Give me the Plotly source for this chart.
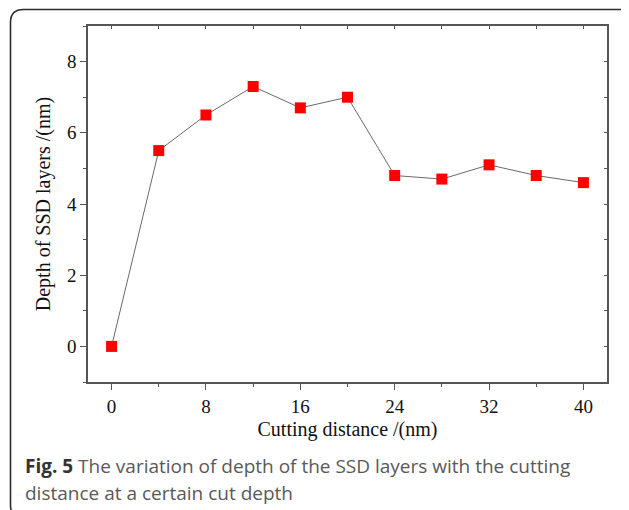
import plotly.graph_objects as go

cutting_distance = [0, 4, 8, 12, 16, 20, 24, 28, 32, 36, 40]
ssd_depth = [0.0, 5.5, 6.5, 7.3, 6.7, 7.0, 4.8, 4.7, 5.1, 4.8, 4.6]
x_ticks = [0, 8, 16, 24, 32, 40]
x_minor = [4, 12, 20, 28, 36]
x_top_ticks = [0, 4, 8, 12, 16, 20, 24, 28, 32, 36, 40]
y_ticks = [0, 2, 4, 6, 8]
y_minor = [-1, 1, 3, 5, 7, 9]
y_right_ticks = [-1, 0, 1, 2, 3, 4, 5, 6, 7, 8, 9]
x_title = "Cutting distance /(nm)"
y_title = "Depth of SSD layers /(nm)"
caption_1 = "<span style='color:#333333'><b>Fig. 5</b></span> The variation of depth of the SSD layers with the cutting"
caption_2 = "distance at a certain cut depth"

# the page body adds an 8px margin; lay out in window pixels and compensate
O = 8
W, H = 629 - O, 510 - O
L, R, T, B = 88, 607, 26, 382  # plot area in window pixels
pw, ph = R - L, B - T

def px(x):
    return (x - L) / pw

def py(y):
    return (B - y) / ph

serif = "Liberation Serif, Times New Roman, serif"
axis_col = "#555555"

fig = go.Figure()
fig.add_trace(go.Scatter(
    x=cutting_distance, y=ssd_depth, mode="lines+markers",
    line=dict(color="#6a6a6a", width=1),
    marker=dict(symbol="square", size=11, color="#ff0000", line=dict(width=0)),
    showlegend=False, cliponaxis=False))
fig.add_trace(go.Scatter(x=[], y=[], xaxis="x2", yaxis="y2", showlegend=False))

xr = [-2, 42]
yr = [-1, 9]
fig.update_layout(
    width=W, height=H,
    margin=dict(l=L - O, r=629 - R, t=T - O, b=510 - B),
    paper_bgcolor="white", plot_bgcolor="white",
    xaxis=dict(range=xr, tickvals=x_ticks, ticks="outside", ticklen=6, tickwidth=1.2,
               tickcolor=axis_col, showline=True, linecolor=axis_col, linewidth=1.6,
               showgrid=False, zeroline=False,
               minor=dict(tickvals=x_minor, ticks="outside", ticklen=3,
                          tickcolor=axis_col, tickwidth=1.2),
               tickfont=dict(family=serif, size=19, color="#111111"),
               title=dict(text=x_title, font=dict(family=serif, size=20, color="#111111"), standoff=6)),
    yaxis=dict(range=yr, tickvals=y_ticks, ticks="outside", ticklen=6, tickwidth=1.2,
               tickcolor=axis_col, showline=True, linecolor=axis_col, linewidth=1.6,
               showgrid=False, zeroline=False,
               minor=dict(tickvals=y_minor, ticks="outside", ticklen=3,
                          tickcolor=axis_col, tickwidth=1.2),
               tickfont=dict(family=serif, size=19, color="#111111"),
               title=dict(text=y_title, font=dict(family=serif, size=20, color="#111111"), standoff=11)),
    xaxis2=dict(range=xr, overlaying="x", side="top", tickvals=x_top_ticks,
                ticks="inside", ticklen=3, tickwidth=1, tickcolor=axis_col, showticklabels=False,
                showline=True, linecolor=axis_col, linewidth=1.6, showgrid=False, zeroline=False),
    yaxis2=dict(range=yr, overlaying="y", side="right", tickvals=y_right_ticks,
                ticks="inside", ticklen=3, tickwidth=1, tickcolor=axis_col, showticklabels=False,
                showline=True, linecolor=axis_col, linewidth=1.6, showgrid=False, zeroline=False),
)

# rounded outer frame (window pixels)
bl, bt, br, bb, rad = 10.5, 9.5, 634, 518, 13
path = (f"M {px(bl)},{py(bt + rad)} "
        f"L {px(bl)},{py(bb - rad)} "
        f"Q {px(bl)},{py(bb)} {px(bl + rad)},{py(bb)} "
        f"L {px(br - rad)},{py(bb)} "
        f"Q {px(br)},{py(bb)} {px(br)},{py(bb - rad)} "
        f"L {px(br)},{py(bt + rad)} "
        f"Q {px(br)},{py(bt)} {px(br - rad)},{py(bt)} "
        f"L {px(bl + rad)},{py(bt)} "
        f"Q {px(bl)},{py(bt)} {px(bl)},{py(bt + rad)} Z")
fig.add_shape(type="path", path=path, xref="paper", yref="paper",
              line=dict(color="#2b2b2b", width=1.6), layer="below")

cap_font = dict(family="Open Sans, sans-serif", size=19, color="#595959")
fig.add_annotation(text=caption_1, x=px(23), y=py(466), xref="paper", yref="paper",
                   xanchor="left", yanchor="middle", showarrow=False, font=cap_font)
fig.add_annotation(text=caption_2, x=px(23), y=py(493), xref="paper", yref="paper",
                   xanchor="left", yanchor="middle", showarrow=False, font=cap_font)

fig.write_html("out.html")
